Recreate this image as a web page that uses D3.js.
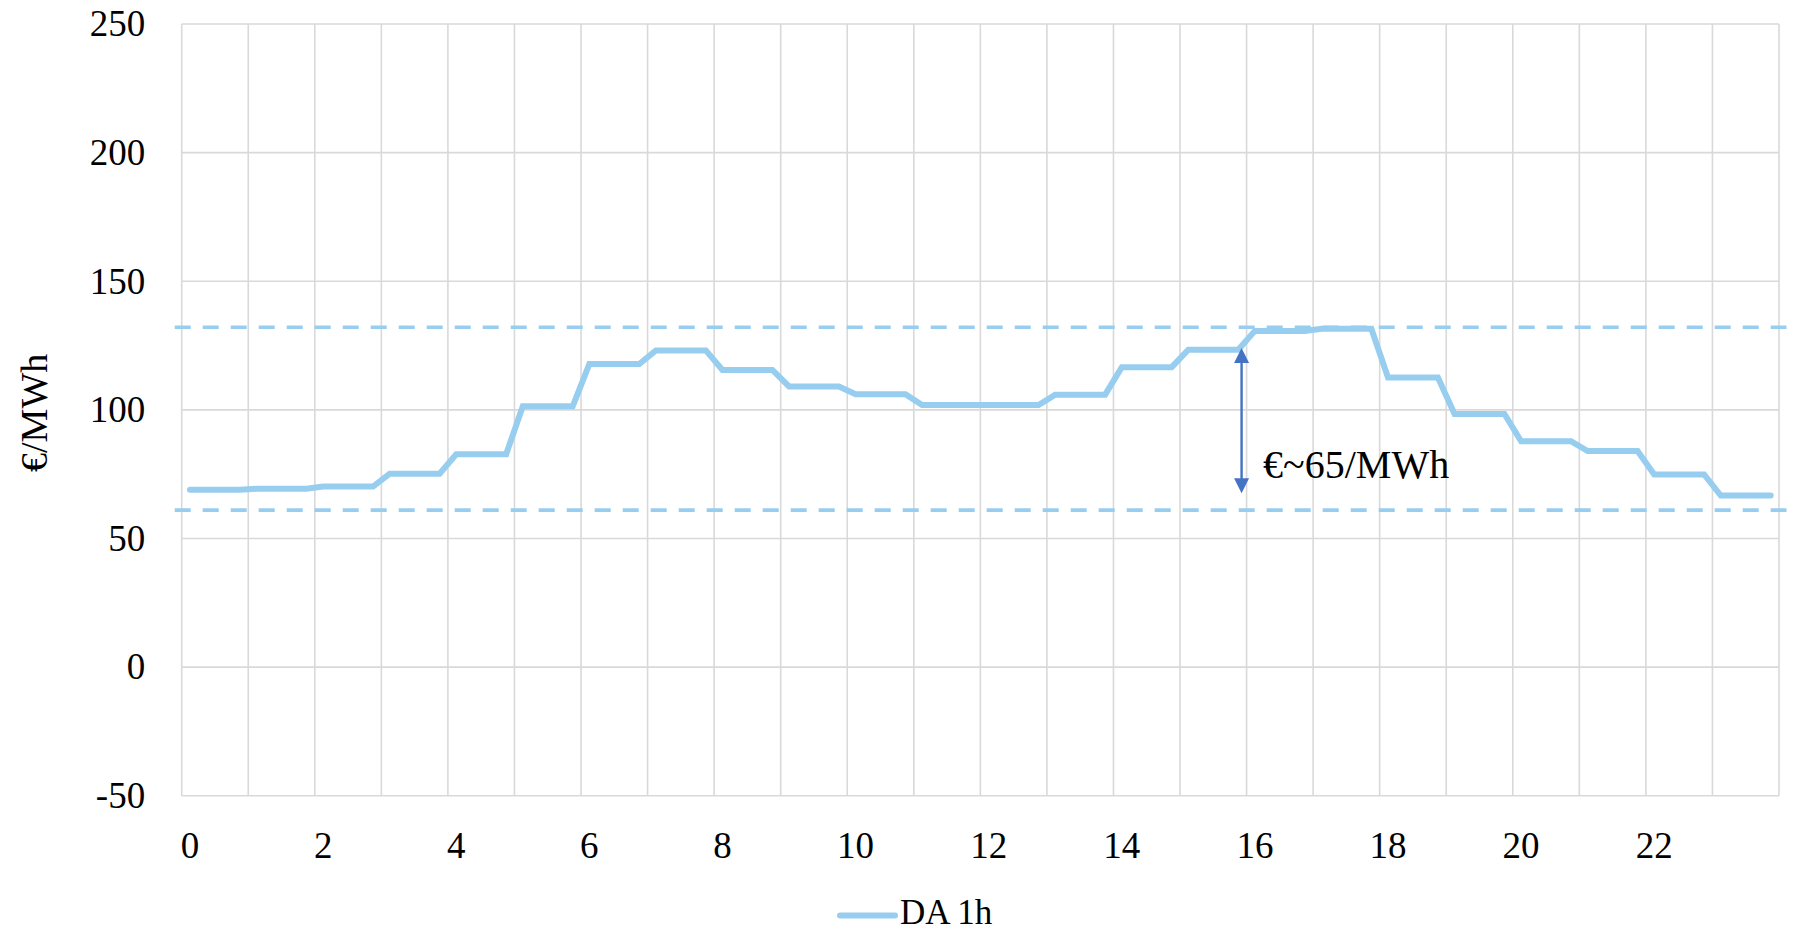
<!DOCTYPE html>
<html>
<head>
<meta charset="utf-8">
<script src="https://cdn.jsdelivr.net/npm/d3@7"></script>
<style>
  html, body { margin: 0; padding: 0; background: #fff; }
  svg { display: block; }
  text { font-family: "Liberation Serif", "Times New Roman", serif; fill: #000; }
</style>
</head>
<body>
<svg id="chart" width="1803" height="931"></svg>
<script>
// Day-ahead hourly price, shown on a quarter-hour grid (four points per hour), €/MWh
const daPrice = [
  68.9, 68.9, 68.9, 68.9,
  69.3, 69.3, 69.3, 69.3,
  70.2, 70.2, 70.2, 70.2,
  75.2, 75.2, 75.2, 75.2,
  82.7, 82.7, 82.7, 82.7,
  101.4, 101.4, 101.4, 101.4,
  117.8, 117.8, 117.8, 117.8,
  123.1, 123.1, 123.1, 123.1,
  115.5, 115.5, 115.5, 115.5,
  109.1, 109.1, 109.1, 109.1,
  106.1, 106.1, 106.1, 106.1,
  101.9, 101.9, 101.9, 101.9,
  101.9, 101.9, 101.9, 101.9,
  105.9, 105.9, 105.9, 105.9,
  116.6, 116.6, 116.6, 116.6,
  123.4, 123.4, 123.4, 123.4,
  130.7, 130.7, 130.7, 130.7,
  131.5, 131.5, 131.5, 131.5,
  112.6, 112.6, 112.6, 112.6,
  98.4, 98.4, 98.4, 98.4,
  87.8, 87.8, 87.8, 87.8,
  84.0, 84.0, 84.0, 84.0,
  74.9, 74.9, 74.9, 74.9,
  66.7, 66.7, 66.7, 66.7
];
const hourLabels = ["0", "2", "4", "6", "8", "10", "12", "14", "16", "18", "20", "22"];
const yTicks = [-50, 0, 50, 100, 150, 200, 250];
const seriesName = "DA 1h";
const yTitle = "€/MWh";

// Reference levels (daily high / low) and the spread annotation
const bandLevels = [132.1, 61.0];
const spreadArrow = { index: 63.7, top: 124.0, bottom: 67.6 };
const spreadLabel = "€~65/MWh";

const lineColor = "#97cdef";
const gridColor = "#d9d9d9";
const arrowColor = "#4472c4";

const plot = { left: 181.7, right: 1779, top: 24, bottom: 795.7 };

const svg = d3.select("#chart");

const slots = d3.range(daPrice.length);
const x = d3.scaleBand().domain(slots).range([plot.left, plot.right]).padding(0);
const xPos = d3.scaleLinear().domain([0, daPrice.length]).range([plot.left, plot.right]);
const y = d3.scaleLinear().domain([-50, 250]).range([plot.bottom, plot.top]);

// Grid: horizontal lines at each y tick, vertical lines at every hour boundary
const grid = svg.append("g").attr("stroke", gridColor).attr("stroke-width", 1.6);
grid.selectAll("line.h").data(yTicks).join("line")
  .attr("x1", plot.left).attr("x2", plot.right)
  .attr("y1", d => y(d)).attr("y2", d => y(d));
grid.selectAll("line.v").data(d3.range(0, daPrice.length + 1, 4)).join("line")
  .attr("x1", d => xPos(d)).attr("x2", d => xPos(d))
  .attr("y1", plot.top).attr("y2", plot.bottom);

// Y axis labels (plain hyphen for negatives)
const yAxis = d3.axisLeft(y).tickValues(yTicks).tickFormat(d => String(d))
  .tickSize(0).tickPadding(36.5);
const gy = svg.append("g").attr("transform", `translate(${plot.left},0)`).call(yAxis);
gy.select(".domain").remove();
gy.selectAll("text")
  .attr("font-family", "Liberation Serif, serif")
  .attr("font-size", 37).attr("fill", "#000").attr("dy", "0.32em");

// X axis labels: one every two hours, centred on the first quarter of the hour
const xAxis = d3.axisBottom(x)
  .tickValues(slots.filter(i => i % 8 === 0))
  .tickFormat(i => hourLabels[i / 8])
  .tickSize(0).tickPadding(0);
const gx = svg.append("g").attr("transform", `translate(0,${plot.bottom})`).call(xAxis);
gx.select(".domain").remove();
gx.selectAll("text")
  .attr("font-family", "Liberation Serif, serif")
  .attr("font-size", 37).attr("fill", "#000")
  .attr("dy", null).attr("y", 62.3);

// Y axis title
svg.append("text")
  .attr("transform", `translate(46.5,${(plot.top + plot.bottom) / 2 + 3}) rotate(-90)`)
  .attr("text-anchor", "middle")
  .attr("font-size", 38)
  .text(yTitle);

// Dashed reference levels, running slightly past the plot frame
svg.append("g").selectAll("line").data(bandLevels).join("line")
  .attr("x1", plot.left - 7).attr("x2", plot.right + 7.5)
  .attr("y1", d => y(d)).attr("y2", d => y(d))
  .attr("stroke", lineColor).attr("stroke-width", 3.6)
  .attr("stroke-dasharray", "16 12");

// Price line
const line = d3.line()
  .x((d, i) => x(i) + x.bandwidth() / 2)
  .y(d => y(d));
svg.append("path")
  .datum(daPrice)
  .attr("d", line)
  .attr("fill", "none")
  .attr("stroke", lineColor)
  .attr("stroke-width", 6)
  .attr("stroke-linecap", "round")
  .attr("stroke-linejoin", "miter");

// Double-headed spread arrow
const ax = xPos(spreadArrow.index);
const yTop = y(spreadArrow.top), yBot = y(spreadArrow.bottom);
const headLen = 15, headHalf = 7.5;
const arrow = svg.append("g").attr("fill", arrowColor).attr("stroke", arrowColor);
arrow.append("line")
  .attr("x1", ax).attr("x2", ax)
  .attr("y1", yTop + headLen - 1).attr("y2", yBot - headLen + 1)
  .attr("stroke-width", 2.4);
arrow.append("path").attr("stroke", "none")
  .attr("d", `M${ax},${yTop} L${ax - headHalf},${yTop + headLen} L${ax + headHalf},${yTop + headLen} Z`);
arrow.append("path").attr("stroke", "none")
  .attr("d", `M${ax},${yBot} L${ax - headHalf},${yBot - headLen} L${ax + headHalf},${yBot - headLen} Z`);

svg.append("text")
  .attr("x", ax + 21.5)
  .attr("y", y(73.5))
  .attr("font-size", 40)
  .text(spreadLabel);

// Legend
const legend = svg.append("g").attr("transform", "translate(840,915.5)");
legend.append("line")
  .attr("x1", 0).attr("x2", 55).attr("y1", 0).attr("y2", 0)
  .attr("stroke", lineColor).attr("stroke-width", 6)
  .attr("stroke-linecap", "round");
legend.append("text")
  .attr("x", 60).attr("y", 8)
  .attr("font-size", 35)
  .text(seriesName);
</script>
</body>
</html>
